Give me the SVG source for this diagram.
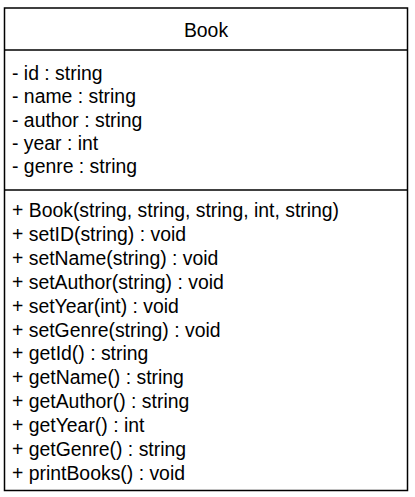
<svg xmlns="http://www.w3.org/2000/svg" width="415" height="497" viewBox="0 0 415 497">
<style>
.frame{fill:#fff;stroke:#000;stroke-width:1.5}
.div{stroke:#000;stroke-width:1.5}
.t{font-family:"Liberation Sans",Arial,Helvetica,sans-serif;font-size:19.4px;fill:#000}
.title{text-anchor:middle}
</style>
<rect width="415" height="497" fill="#fff"/>
<g id="node-Book">
<rect class="frame" x="4.5" y="8" width="403" height="482.5"/>
<line class="div" x1="4.5" y1="50" x2="407.5" y2="50"/>
<line class="div" x1="4.5" y1="190" x2="407.5" y2="190"/>
<text class="t title" x="206" y="37">Book</text>
<g id="attributes">
<text class="t" x="12" y="80">- id : string</text>
<text class="t" x="12" y="103.3">- name : string</text>
<text class="t" x="12" y="126.6">- author : string</text>
<text class="t" x="12" y="149.9">- year : int</text>
<text class="t" x="12" y="173.2">- genre : string</text>
</g>
<g id="methods">
<text class="t" x="12" y="217">+ Book(string, string, string, int, string)</text>
<text class="t" x="12" y="240.9">+ setID(string) : void</text>
<text class="t" x="12" y="264.8">+ setName(string) : void</text>
<text class="t" x="12" y="288.7">+ setAuthor(string) : void</text>
<text class="t" x="12" y="312.6">+ setYear(int) : void</text>
<text class="t" x="12" y="336.5">+ setGenre(string) : void</text>
<text class="t" x="12" y="360.4">+ getId() : string</text>
<text class="t" x="12" y="384.3">+ getName() : string</text>
<text class="t" x="12" y="408.2">+ getAuthor() : string</text>
<text class="t" x="12" y="432.1">+ getYear() : int</text>
<text class="t" x="12" y="456">+ getGenre() : string</text>
<text class="t" x="12" y="479.9">+ printBooks() : void</text>
</g>
</g>
<g id="connectors"></g>
</svg>
